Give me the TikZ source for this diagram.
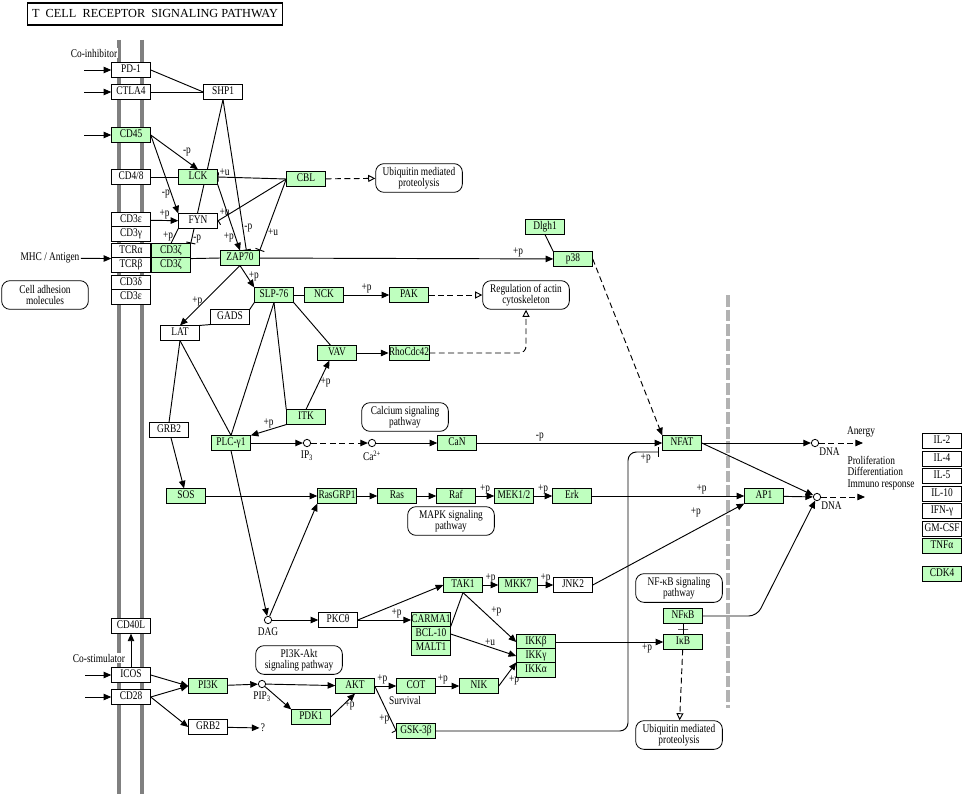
\documentclass[tikz,border=0pt]{standalone}
\usepackage{fontspec}
\setmainfont{Liberation Serif}
\newfontfamily\keggfont[FakeStretch=0.8]{Liberation Serif}
\usetikzlibrary{arrows.meta,backgrounds}
\definecolor{keggreen}{RGB}{191,255,191}
\newcommand{\kegg}{\keggfont\fontsize{10}{9.6}\selectfont}

\begin{document}
\begin{tikzpicture}[x=0.03cm, y=-0.03cm, >={Triangle[length=6.5pt,width=5.5pt]}]
	\tikzstyle{gene}=[rectangle, draw=black, line width=0.7pt, fill=keggreen, minimum width=1.16cm, minimum height=0.43cm, inner sep=0pt, text height=7pt, text depth=2pt, font=\kegg]
	\tikzstyle{plain}=[gene, fill=white]
	\tikzstyle{pathway}=[rectangle, rounded corners=0.25cm, draw=black, line width=0.7pt, fill=white, align=center, minimum width=2.6cm, minimum height=0.86cm, inner sep=1pt, font=\kegg]
	\tikzstyle{cpd}=[circle, draw=black, line width=0.7pt, fill=white, inner sep=0pt, minimum size=0.22cm]
	\tikzstyle{txt}=[font=\kegg, inner sep=1pt]
	\tikzstyle{link}=[line width=0.8pt]
	\tikzstyle{inhib}=[line width=0.8pt, -{Bar[width=8pt]}]
	\tikzstyle{flow}=[line width=0.8pt, dash pattern=on 5pt off 3pt, ->]
	\tikzstyle{indirect}=[line width=0.8pt, dash pattern=on 5pt off 3pt, -{Triangle[open,length=6pt,width=6pt]}]

	\useasboundingbox (0,0) rectangle (964,794);

	\node[draw=black, line width=1.5pt, minimum width=7.65cm, minimum height=0.66cm, font=\fontsize{10.5}{11}\selectfont] (title) at (155,14) {T\ \ CELL\ \ RECEPTOR\ \ SIGNALING PATHWAY};

	\node[txt, fill=white] (coinhib) at (94,53) {Co-inhibitor};
	\node[plain] (pd1) at (131,70) {PD-1};
	\node[plain] (ctla4) at (131,92) {CTLA4};
	\node[plain] (shp1) at (223,92) {SHP1};
	\node[gene] (cd45) at (131,135) {CD45};
	\node[plain] (cd48) at (131,177) {CD4/8};
	\node[gene] (lck) at (198,177) {LCK};
	\node[gene] (cbl) at (306,179) {CBL};
	\node[pathway] (ubiq1) at (419,178) {Ubiquitin mediated\\proteolysis};
	\node[plain] (cd3e) at (131,220) {CD3ε};
	\node[plain] (cd3g) at (131,234) {CD3γ};
	\node[plain] (fyn) at (198,221) {FYN};
	\node[plain] (tcra) at (131,251) {TCRα};
	\node[plain] (tcrb) at (131,265) {TCRβ};
	\node[gene] (cd3za) at (171,251) {CD3ζ};
	\node[gene] (cd3zb) at (171,265) {CD3ζ};
	\node[gene] (zap70) at (240,258) {ZAP70};
	\node[txt] (mhc) at (50,258) {MHC / Antigen};
	\node[plain] (cd3d) at (131,283) {CD3δ};
	\node[plain] (cd3e2) at (131,297) {CD3ε};
	\node[pathway] (adhesion) at (45,295) {Cell adhesion\\molecules};
	\node[gene] (dlgh1) at (545,227) {Dlgh1};
	\node[gene] (p38) at (573,259) {p38};

	\node[gene] (slp76) at (274,295) {SLP-76};
	\node[gene] (nck) at (324,295) {NCK};
	\node[gene] (pak) at (409,295) {PAK};
	\node[pathway] (actin) at (526,295) {Regulation of actin\\cytoskeleton};
	\node[plain] (gads) at (230,317) {GADS};
	\node[plain] (lat) at (180,333) {LAT};
	\node[gene] (vav) at (337,353) {VAV};
	\node[gene] (rho) at (409,353) {RhoCdc42};
	\node[gene] (itk) at (306,417) {ITK};
	\node[pathway] (calcium) at (405,417) {Calcium signaling\\pathway};
	\node[plain] (grb2) at (169,430) {GRB2};
	\node[gene] (plc) at (231,443) {PLC-γ1};
	\node[cpd, label={[txt, label distance=2pt]below:IP\textsubscript{3}}] (ip3) at (307,443) {};
	\node[cpd, label={[txt, label distance=2pt]below:Ca\textsuperscript{2+}}] (ca) at (372,443) {};
	\node[gene] (can) at (457,443) {CaN};
	\node[gene] (nfat) at (682,443) {NFAT};
	\node[cpd, label={[txt]below right:DNA}] (dnaa) at (815,443) {};
	\node[txt] (anergy) at (861,432) {Anergy};
	\node[cpd, label={[txt]below right:DNA}] (dnab) at (817,497) {};
	\node[txt, align=left] (prolif) at (881,473) {Proliferation\\Differentiation\\Immuno response};

	\node[plain] (il2) at (942,441) {IL-2};
	\node[plain] (il4) at (942,459) {IL-4};
	\node[plain] (il5) at (942,476) {IL-5};
	\node[plain] (il10) at (942,494) {IL-10};
	\node[plain] (ifng) at (942,511) {IFN-γ};
	\node[plain] (gmcsf) at (942,529) {GM-CSF};
	\node[gene] (tnfa) at (942,546) {TNFα};
	\node[gene] (cdk4) at (942,574) {CDK4};

	\node[gene] (sos) at (186,496) {SOS};
	\node[gene] (rasgrp1) at (337,496) {RasGRP1};
	\node[gene] (ras) at (397,496) {Ras};
	\node[gene] (raf) at (456,496) {Raf};
	\node[gene] (mek) at (514,496) {MEK1/2};
	\node[gene] (erk) at (572,496) {Erk};
	\node[pathway] (mapk) at (451,521) {MAPK signaling\\pathway};
	\node[gene] (ap1) at (764,496) {AP1};

	\node[cpd, label={[txt, label distance=2pt]below:DAG}] (dag) at (268,620) {};
	\node[plain] (pkc) at (338,620) {PKCθ};
	\node[gene] (tak1) at (463,585) {TAK1};
	\node[gene] (mkk7) at (518,585) {MKK7};
	\node[plain] (jnk2) at (573,585) {JNK2};
	\node[gene] (carma1) at (431,620) {CARMA1};
	\node[gene] (bcl10) at (431,634) {BCL-10};
	\node[gene] (malt1) at (431,648) {MALT1};
	\node[gene] (ikkb) at (536,642) {IKKβ};
	\node[gene] (ikkg) at (536,656) {IKKγ};
	\node[gene] (ikka) at (536,670) {IKKα};
	\node[pathway] (nfkbpath) at (679,588) {NF-κB signaling\\pathway};
	\node[gene] (nfkb) at (683,616) {NFκB};
	\node[gene] (ikb) at (683,642) {IκB};
	\node[pathway] (ubiq2) at (679,735) {Ubiquitin mediated\\proteolysis};

	\node[plain] (cd40l) at (131,626) {CD40L};
	\node[txt, fill=white] (costim) at (99,658) {Co-stimulator};
	\node[plain] (icos) at (131,675) {ICOS};
	\node[plain] (cd28) at (131,697) {CD28};
	\node[gene] (pi3k) at (208,686) {PI3K};
	\node[plain] (grb2b) at (208,727) {GRB2};
	\node[txt] (unknown) at (263,728) {?};
	\node[pathway] (pi3kakt) at (299,660) {PI3K-Akt\\signaling pathway};
	\node[cpd, label={[txt, label distance=2pt]below:PIP\textsubscript{3}}] (pip3) at (262,684) {};
	\node[gene] (pdk1) at (311,717) {PDK1};
	\node[gene] (akt) at (355,686) {AKT};
	\node[gene] (cot) at (416,686) {COT};
	\node[txt] (survival) at (405,700) {Survival};
	\node[gene] (nik) at (479,686) {NIK};
	\node[gene] (gsk) at (416,731) {GSK-3β};

	\coordinate (inpd1) at (84,70);
	\coordinate (inctla4) at (84,92);
	\coordinate (incd45) at (84,135);
	\coordinate (inicos) at (85,675);
	\coordinate (incd28) at (85,697);
	\coordinate (outa) at (863,443);
	\coordinate (outb) at (865,497);
	\coordinate (nfkbturn) at (757,616);
	\coordinate (gskturn) at (628,731);
	\coordinate (gskend) at (659,452);

	\begin{scope}[on background layer]
	\draw[gray, line width=3pt] (119,40) -- (119,794);
	\draw[gray, line width=3pt] (142,40) -- (142,794);
	\draw[black!30, line width=4pt, dash pattern=on 10pt off 2.5pt] (728,295) -- (728,708);

	\path[link, ->, nodes={txt}]
		(inpd1) edge (pd1)
		(inctla4) edge (ctla4)
		(incd45) edge (cd45)
		(mhc) edge (tcra.south west)
		(cd45.east) edge node[pos=0.65, above right] {-p} (lck.north)
		(cd45.east) edge node[pos=0.75, left] {-p} (fyn.north west)
		(cd3e) edge node[above] {+p} (fyn)
		(lck.south east) edge node[pos=0.8, left] {+p} (zap70.north)
		(zap70.south) edge node[pos=0.6, left] {+p} (lat.north)
		(zap70.south) edge node[right] {+p} (slp76.north west)
		(zap70) edge node[pos=0.88, above] {+p} (p38)
		(nck) edge node[above] {+p} (pak)
		(vav) edge (rho)
		(itk.north) edge node[pos=0.55, right] {+p} (vav.-135)
		(itk.south west) edge node[above] {+p} (plc.north east)
		(grb2) edge (sos)
		(sos) edge (rasgrp1)
		(plc) edge (ip3)
		(ca) edge (can)
		(can) edge node[pos=0.34, above] {-p} (nfat)
		(plc.south) edge (dag)
		(dag) edge (rasgrp1.south west)
		(dag) edge (pkc)
		(pkc.east) edge (tak1.west)
		(pkc) edge node[pos=0.73, above] {+p} (carma1)
		(tak1.south) edge node[above right] {+p} (ikkb.west)
		(bcl10.east) edge node[pos=0.6, above] {+u} (ikkg.west)
		(tak1) edge node[above] {+p} (mkk7)
		(mkk7) edge node[above] {+p} (jnk2)
		(jnk2.east) edge node[pos=0.68, above=9pt] {+p} (ap1.south west)
		(rasgrp1) edge (ras)
		(ras) edge (raf)
		(raf) edge node[above] {+p} (mek)
		(mek) edge node[above] {+p} (erk)
		(erk) edge node[pos=0.72, above] {+p} (ap1)
		(ap1) edge (dnab)
		(nfat) edge (dnaa)
		(nfat.east) edge (dnab)
		(pip3) edge (akt)
		(pip3) edge (pdk1.north west)
		(pdk1.east) edge node[right] {+p} (akt.south)
		(akt) edge node[pos=0.35, above] {+p} (cot)
		(cot) edge node[pos=0.3, above] {+p} (nik)
		(nik.east) edge node[below right] {+p} (ikka.north west)
		(pi3k) edge (pip3)
		(icos.east) edge (pi3k.west)
		(cd28.east) edge (pi3k.west)
		(cd28.east) edge (grb2b.west)
		(grb2b) edge (unknown)
		(icos) edge (cd40l)
		(inicos) edge (icos)
		(incd28) edge (cd28)
		(ikkb) edge node[pos=0.85, below] {+p} (ikb);

	\path[link, nodes={txt}]
		(pd1.east) edge (shp1.west)
		(ctla4) edge (shp1)
		(cd48) edge (lck)
		(cd3za.south east) edge (zap70.west)
		(fyn.south west) edge node[left] {+p} (cd3za.north)
		(slp76) edge (nck)
		(slp76.south east) edge (vav.130)
		(slp76.south west) edge (gads.north east)
		(gads.south west) edge (lat.north east)
		(slp76.south) edge (plc.north)
		(slp76.south) edge (itk.north west)
		(lat.south) edge (plc.north)
		(lat.south) edge (grb2.north)
		(bcl10.north east) edge (tak1.south)
		(dlgh1.south) edge (p38.north west);

	\path[inhib, nodes={txt}]
		(shp1.south) edge node[pos=0.97, right] {-p} (cd3za.north east)
		(shp1.south) edge node[pos=0.85, right] {-p} (zap70.50)
		(cbl.west) edge node[pos=0.9, above] {+u} (lck.east)
		(cbl.west) edge node[pos=0.9, above] {+u} (fyn.east)
		(cbl.west) edge node[pos=0.75, right] {+u} (zap70.north east)
		(akt.east) edge node[pos=0.75, left] {+p} (gsk.west);

	\path[flow]
		(p38.east) edge (nfat.north west)
		(ip3) edge (ca)
		(dnaa) edge (outa)
		(dnab) edge (outb);

	\path[indirect]
		(cbl) edge (ubiq1)
		(pak) edge (actin)
		(ikb) edge (ubiq2);

	\draw[indirect, rounded corners=0.2cm] (rho.east) -| (actin.south);
	\draw[link, ->, rounded corners=0.25cm] (nfkb.east) -- (nfkbturn) -- (dnab);
	\draw[inhib, rounded corners=0.25cm] (gsk.east) -- (gskturn) |- (gskend) node[txt, below left, xshift=-0.2cm] {+p};
	\draw[link] (nfkb) -- node[draw, line width=0.8pt, inner sep=0pt, minimum width=0.3cm, minimum height=0pt] (nfkbtie) {} (ikb);
	\end{scope}
\end{tikzpicture}
\end{document}
